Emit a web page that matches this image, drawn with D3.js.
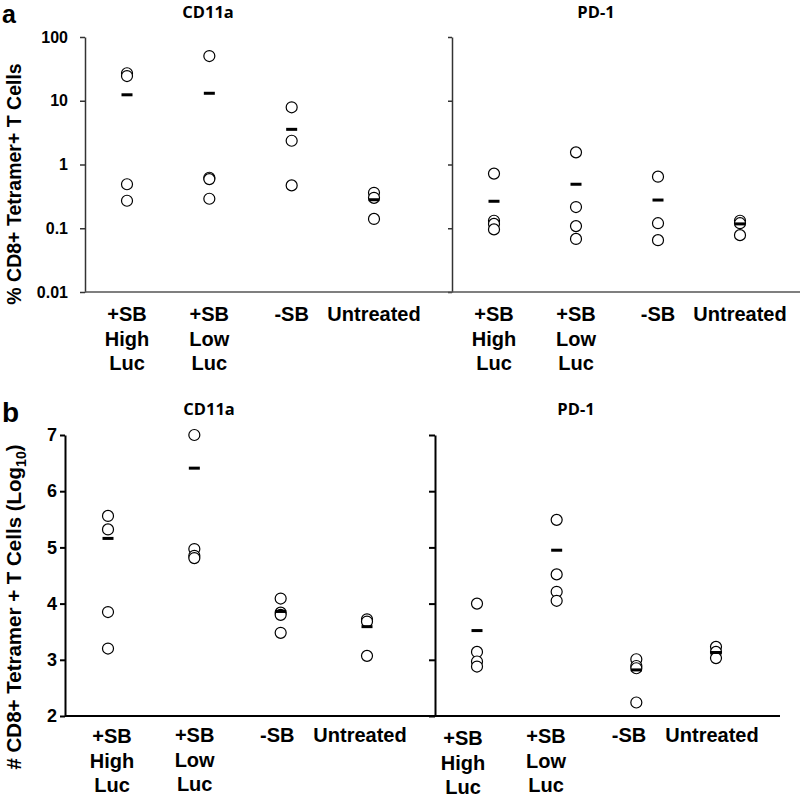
<!DOCTYPE html>
<html>
<head>
<meta charset="utf-8">
<script src="https://cdn.jsdelivr.net/npm/d3@7"></script>
<style>
  html, body { margin: 0; padding: 0; background: #fff; }
  svg { display: block; }
</style>
</head>
<body>
<svg id="chart" width="800" height="799"></svg>
<script>
// ---------------- DATA ----------------
const categories = ["+SB High Luc", "+SB Low Luc", "-SB", "Untreated"];
const categoryLabelLines = [["+SB", "High", "Luc"], ["+SB", "Low", "Luc"], ["-SB"], ["Untreated"]];

// Panel a: % CD8+ Tetramer+ T cells (log scale)
const aCD11aValues = [[27, 24.4, 0.49, 0.27], [50.3, 0.62, 0.59, 0.29], [7.9, 2.36, 0.47], [0.36, 0.30, 0.14]];
const aCD11aMeans  = [12.4, 13.1, 3.56, 0.28];
const aPD1Values   = [[0.72, 0.131, 0.117, 0.096], [1.55, 0.215, 0.108, 0.068], [0.644, 0.12, 0.065], [0.131, 0.12, 0.078]];
const aPD1Means    = [0.265, 0.49, 0.277, 0.117];
const aTickValues  = [0.01, 0.1, 1, 10, 100];
const aTickLabels  = ["0.01", "0.1", "1", "10", "100"];

// Panel b: # CD8+ Tetramer+ T cells (Log10)
const bCD11aValues = [[5.56, 5.32, 3.85, 3.2], [7.0, 4.97, 4.85, 4.81], [4.09, 3.84, 3.80, 3.48], [3.72, 3.68, 3.07]];
const bCD11aMeans  = [5.16, 6.41, 3.86, 3.59];
const bPD1Values   = [[4.0, 3.14, 2.97, 2.88], [5.49, 4.52, 4.21, 4.05], [3.01, 2.89, 2.85, 2.24], [3.23, 3.14, 3.03]];
const bPD1Means    = [3.52, 4.95, 2.82, 3.13];
const bTickValues  = [2, 3, 4, 5, 6, 7];
const bTickLabels  = ["2", "3", "4", "5", "6", "7"];

const panelTitles = ["CD11a", "PD-1"];

// ---------------- DRAWING ----------------
const svg = d3.select("#chart");
const FONT = "'Liberation Sans', Arial, sans-serif";
const TITLE_FONT = "'Open Sans', 'Noto Sans', sans-serif";

function drawPoints(g, x, y, values, means) {
  const pts = [];
  values.forEach((arr, i) => arr.forEach(v => pts.push({c: categories[i], v})));
  g.selectAll(null).data(pts).enter().append("circle")
    .attr("cx", d => x(d.c)).attr("cy", d => y(d.v)).attr("r", 5.5)
    .attr("fill", "#fff").attr("stroke", "#000").attr("stroke-width", 1.2);
  g.selectAll(null).data(means).enter().append("rect")
    .attr("x", (d, i) => x(categories[i]) - 5.5).attr("y", d => y(d) - 1.5)
    .attr("width", 11).attr("height", 3).attr("fill", "#000");
}

function drawLabels(g, xl, baseY, extraOffsets) {
  categories.forEach((c, i) => {
    const t = g.append("text").attr("text-anchor", "middle")
      .attr("font-family", FONT).attr("font-weight", "bold").attr("font-size", 20).attr("fill", "#000");
    categoryLabelLines[i].forEach((line, j) => {
      t.append("tspan").attr("x", xl(c)).attr("y", baseY + (extraOffsets ? extraOffsets[i] : 0) + j * 24.5).text(line);
    });
  });
}

function styleAxis(ax, color, width, fontSize) {
  ax.select(".domain").attr("stroke", color).attr("stroke-width", width);
  ax.selectAll(".tick line").attr("stroke", color).attr("stroke-width", width);
  ax.selectAll(".tick text").attr("font-family", FONT).attr("font-weight", "bold")
    .attr("font-size", fontSize).attr("fill", "#000");
}

// ===== Panel a =====
const ya = d3.scaleLog().domain([0.01, 100]).range([292, 37]);
const xaL = d3.scalePoint().domain(categories).range([127, 374]);
const xaR = d3.scalePoint().domain(categories).range([494, 740]);

const axA = svg.append("g").attr("transform", "translate(85,0)")
  .call(d3.axisLeft(ya).tickValues(aTickValues).tickFormat((d, i) => aTickLabels[i]).tickSize(5).tickPadding(12).tickSizeOuter(0));
styleAxis(axA, "#333", 1.5, 16);
const axA2 = svg.append("g").attr("transform", "translate(452,0)")
  .call(d3.axisLeft(ya).tickValues(aTickValues).tickFormat("").tickSize(4).tickSizeOuter(0));
styleAxis(axA2, "#333", 1.5, 16);
// x-axis baselines
svg.append("line").attr("x1", 85).attr("x2", 452).attr("y1", ya(0.01)).attr("y2", ya(0.01)).attr("stroke", "#555").attr("stroke-width", 1.5);
svg.append("line").attr("x1", 452).attr("x2", 800).attr("y1", ya(0.01)).attr("y2", ya(0.01)).attr("stroke", "#555").attr("stroke-width", 1.5);

drawPoints(svg.append("g"), xaL, ya, aCD11aValues, aCD11aMeans);
drawPoints(svg.append("g"), xaR, ya, aPD1Values, aPD1Means);
drawLabels(svg.append("g"), xaL, 321);
drawLabels(svg.append("g"), xaR, 321);

svg.append("text").attr("x", 208).attr("y", 18).attr("text-anchor", "middle")
  .attr("font-family", TITLE_FONT).attr("font-weight", "bold").attr("font-size", 16.5).text(panelTitles[0]);
svg.append("text").attr("x", 596).attr("y", 18).attr("text-anchor", "middle")
  .attr("font-family", TITLE_FONT).attr("font-weight", "bold").attr("font-size", 16.5).text(panelTitles[1]);

svg.append("text").attr("x", 2).attr("y", 23).attr("font-family", FONT).attr("font-weight", "bold")
  .attr("font-size", 25).text("a");

svg.append("text").attr("transform", "translate(21,184) rotate(-90)").attr("text-anchor", "middle")
  .attr("font-family", FONT).attr("font-weight", "bold").attr("font-size", 19.5)
  .text("% CD8+ Tetramer+ T Cells");

// ===== Panel b =====
const yb = d3.scaleLinear().domain([2, 7]).range([716, 435]);
const xbL = d3.scalePoint().domain(categories).range([108, 367]);
const xbR = d3.scalePoint().domain(categories).range([477, 716]);
const xbLabL = d3.scalePoint().domain(categories).range([112, 360]);
const xbLabR = d3.scalePoint().domain(categories).range([463, 712]);

const axB = svg.append("g").attr("transform", "translate(65,0)")
  .call(d3.axisLeft(yb).tickValues(bTickValues).tickFormat((d, i) => bTickLabels[i]).tickSize(5).tickPadding(3).tickSizeOuter(0));
styleAxis(axB, "#000", 2, 18);
const axB2 = svg.append("g").attr("transform", "translate(435,0)")
  .call(d3.axisLeft(yb).tickValues(bTickValues).tickFormat("").tickSize(6).tickSizeOuter(0));
styleAxis(axB2, "#000", 2, 18);
svg.append("line").attr("x1", 65).attr("x2", 435).attr("y1", yb(2)).attr("y2", yb(2)).attr("stroke", "#000").attr("stroke-width", 2);
svg.append("line").attr("x1", 435).attr("x2", 780).attr("y1", yb(2)).attr("y2", yb(2)).attr("stroke", "#000").attr("stroke-width", 2);

drawPoints(svg.append("g"), xbL, yb, bCD11aValues, bCD11aMeans);
drawPoints(svg.append("g"), xbR, yb, bPD1Values, bPD1Means);
drawLabels(svg.append("g"), xbLabL, 742, [1, 0, 0, 0]);
drawLabels(svg.append("g"), xbLabR, 742, [3, 1, 0, 0]);

svg.append("text").attr("x", 209).attr("y", 415).attr("text-anchor", "middle")
  .attr("font-family", TITLE_FONT).attr("font-weight", "bold").attr("font-size", 16.5).text(panelTitles[0]);
svg.append("text").attr("x", 576).attr("y", 415).attr("text-anchor", "middle")
  .attr("font-family", TITLE_FONT).attr("font-weight", "bold").attr("font-size", 16.5).text(panelTitles[1]);

svg.append("text").attr("x", 2).attr("y", 422).attr("font-family", FONT).attr("font-weight", "bold")
  .attr("font-size", 28).text("b");

const tb = svg.append("text").attr("transform", "translate(21,607) rotate(-90)").attr("text-anchor", "middle")
  .attr("font-family", FONT).attr("font-weight", "bold").attr("font-size", 20.5);
tb.append("tspan").text("# CD8+ Tetramer + T Cells (Log");
tb.append("tspan").attr("font-size", 14).attr("dy", 5).text("10");
tb.append("tspan").attr("dy", -5).text(")");
</script>
</body>
</html>
